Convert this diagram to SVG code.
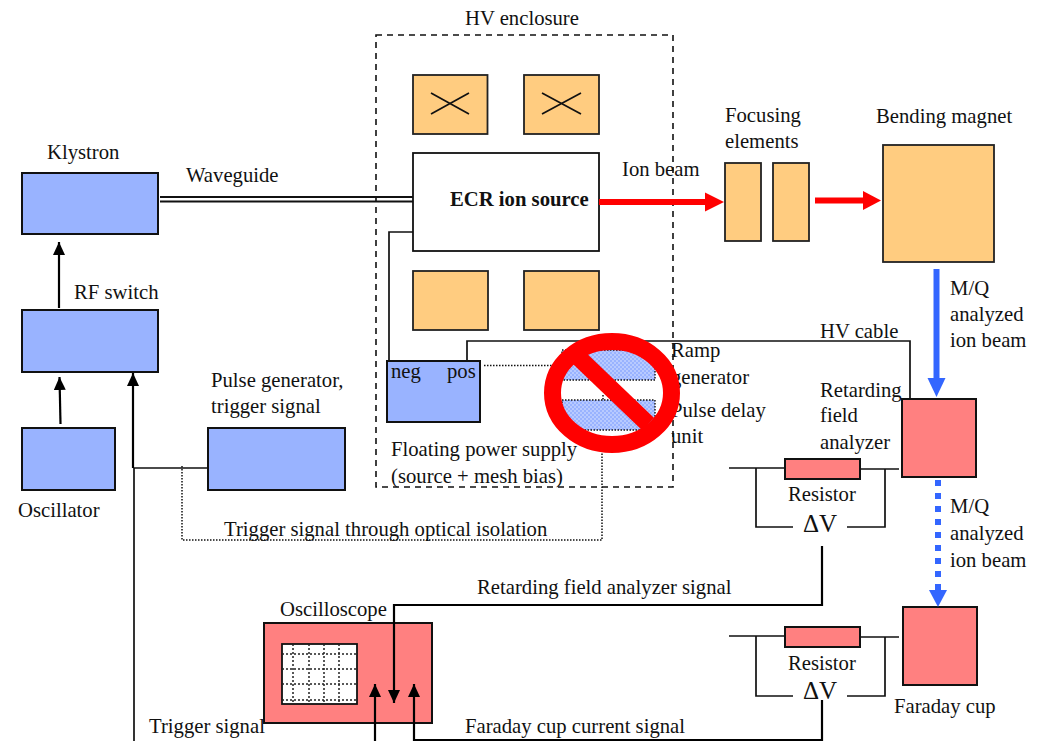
<svg xmlns="http://www.w3.org/2000/svg" width="1038" height="741" viewBox="0 0 1038 741">
<style>
text{font-family:"Liberation Serif","Times New Roman",serif;font-size:20.7px;fill:#111}
.dv{font-size:25px}
.b{fill:#99b3ff;stroke:#111;stroke-width:2}
.o{fill:#ffcc80;stroke:#222;stroke-width:1.800}
.r{fill:#ff8080;stroke:#111;stroke-width:2}
.w{fill:#fff;stroke:#111;stroke-width:1.800}
.l{fill:none;stroke:#111;stroke-width:1.700}
.a{fill:none;stroke:#000;stroke-width:2.200}
.d{fill:none;stroke:#111;stroke-width:1.500;stroke-dasharray:1.500 1.500}
.g{fill:none;stroke:#222;stroke-width:1.500;stroke-dasharray:2 2}
</style>
<defs>
<marker id="ah" markerUnits="userSpaceOnUse" markerWidth="13" markerHeight="13" refX="13" refY="6" orient="auto"><path d="M0,0L13,6L0,12z" fill="#000"/></marker>
<pattern id="dots" width="4" height="4" patternUnits="userSpaceOnUse"><rect width="4" height="4" fill="#99b3ff"/><circle cx="1" cy="1" r=".8" fill="#dfe8ff"/><circle cx="3" cy="3" r=".8" fill="#dfe8ff"/></pattern>
</defs>
<rect width="1038" height="741" fill="#fff"/>
<g id="hv-enclosure"><rect x="376" y="35" width="297" height="452" fill="none" stroke="#111" stroke-width="1.600" stroke-dasharray="6 5"/><text x="465" y="25">HV enclosure</text></g>
<g id="klystron"><rect class="b" x="22" y="173" width="136" height="61"/><text x="47" y="159">Klystron</text></g>
<text x="186" y="182">Waveguide</text>
<g id="rf-switch"><rect class="b" x="22" y="310" width="136" height="62"/><text x="74" y="299">RF switch</text></g>
<g id="oscillator"><rect class="b" x="22" y="428" width="93" height="62"/><text x="18" y="517">Oscillator</text></g>
<g id="pulse-generator"><rect class="b" x="208" y="428" width="137" height="62"/><text x="211" y="387">Pulse generator,</text><text x="211" y="413">trigger signal</text></g>
<g id="coil-1"><rect class="o" x="413" y="75" width="74.500" height="59"/><path class="l" d="M431,114L469,93M431,93L469,114"/></g>
<g id="coil-2"><rect class="o" x="524" y="75" width="75" height="59"/><path class="l" d="M542,114L581,93M542,93L581,114"/></g>
<g id="coil-3"><rect class="o" x="413" y="271" width="75" height="59"/></g>
<g id="coil-4"><rect class="o" x="524" y="271" width="75" height="59"/></g>
<g id="ecr"><rect class="w" x="413" y="153" width="186" height="98"/><text x="450" y="206" font-weight="bold">ECR ion source</text></g>
<g id="focusing"><rect class="o" x="725" y="163" width="36" height="78"/><rect class="o" x="773" y="163" width="36" height="78"/><text x="725" y="122">Focusing</text><text x="725" y="148">elements</text></g>
<g id="bending"><rect class="o" x="883" y="145" width="111" height="117"/><text x="876" y="123">Bending magnet</text></g>
<g id="rfa"><rect class="r" x="902" y="399" width="74" height="78"/><text x="820" y="397">Retarding</text><text x="820" y="422">field</text><text x="820" y="449">analyzer</text></g>
<g id="faraday"><rect class="r" x="903" y="607" width="74" height="78"/><text x="894" y="713">Faraday cup</text></g>
<g id="oscilloscope"><rect class="r" x="264" y="623" width="168" height="100"/><rect class="w" x="282" y="644" width="75" height="60"/>
<path class="g" d="M293,644V704M309,644V704M324,644V704M339,644V704M282,654H357M282,669H357M282,684H357M282,700H357"/><text x="280" y="616">Oscilloscope</text></g>
<g id="connectors">
<path class="l" style="stroke-width:2" d="M160,197H413M160,201.500H413"/>
<path class="l" d="M413,232H389V361M467,361V341H910V399"/>
<path class="a" d="M59,308V242" marker-end="url(#ah)"/>
<path class="a" d="M60.500,424L59.500,377" marker-end="url(#ah)"/>
<path class="a" d="M133,468V373" marker-end="url(#ah)"/>
<path class="l" d="M134,468H208M134,468V741"/>
<path class="d" d="M182,466V540H602V437M484,365.500H562M603,395V402"/>
<path class="a" d="M375,741V684" marker-end="url(#ah)"/>
<path class="a" d="M822,546V605H394V703" marker-end="url(#ah)"/>
<path class="a" d="M822,700V740H414V684" marker-end="url(#ah)"/>
<path class="l" d="M729,468H785M860,469H899M756,468V527H793M847,527H885V469M729,636H785M860,637H899M756,636V696H793M847,696H885V637"/>
<path d="M599,202H706" stroke="#f00" stroke-width="6"/><path d="M724,202L705,192.500V211.500z" fill="#f00"/>
<path d="M815,200.500H863" stroke="#f00" stroke-width="6"/><path d="M881,200.500L863,191V210z" fill="#f00"/>
<path d="M936.500,269V380" stroke="#3366ff" stroke-width="6"/><path d="M936.500,397L927.500,378H945.500z" fill="#3366ff"/>
<path d="M938,480V590" stroke="#3366ff" stroke-width="6" stroke-dasharray="6 7"/><path d="M938,607L929,590H947z" fill="#3366ff"/>
</g>
<g id="power-supply"><rect class="b" x="387" y="361" width="93" height="61"/><text x="391" y="378">neg</text><text x="447" y="378">pos</text>
<text x="391" y="456">Floating power supply</text><text x="391" y="483">(source + mesh bias)</text></g>
<g id="ramp"><rect x="562" y="350" width="93" height="30" fill="url(#dots)" stroke="#111" stroke-width="1.400" stroke-dasharray="1.500 1.500"/><text x="671" y="357">Ramp</text><text x="671" y="384">generator</text></g>
<g id="pulse-delay"><rect x="562" y="400" width="93" height="30" fill="url(#dots)" stroke="#111" stroke-width="1.400" stroke-dasharray="1.500 1.500"/><text x="671" y="417">Pulse delay</text><text x="671" y="443">unit</text></g>
<g id="no-sign"><ellipse cx="612" cy="393" rx="59.500" ry="51.500" fill="none" stroke="#f00" stroke-width="17"/><path d="M577,356L648,424" stroke="#f00" stroke-width="17"/></g>
<text x="224" y="536">Trigger signal through optical isolation</text>
<text x="622" y="176">Ion beam</text>
<text x="950" y="295">M/Q</text><text x="950" y="321">analyzed</text><text x="950" y="347">ion beam</text>
<text x="820" y="338">HV cable</text>
<g id="resistor-1"><rect class="r" x="785" y="459" width="75" height="20"/><text x="788" y="501">Resistor</text><text class="dv" x="803" y="532" style="font-size:25px">ΔV</text></g>
<text x="950" y="513">M/Q</text><text x="950" y="540">analyzed</text><text x="950" y="567">ion beam</text>
<g id="resistor-2"><rect class="r" x="785" y="627" width="75" height="20"/><text x="788" y="670">Resistor</text><text class="dv" x="803" y="699" style="font-size:25px">ΔV</text></g>
<text x="477" y="594">Retarding field analyzer signal</text>
<text x="465" y="733">Faraday cup current signal</text>
<text x="149" y="733">Trigger signal</text>
</svg>
